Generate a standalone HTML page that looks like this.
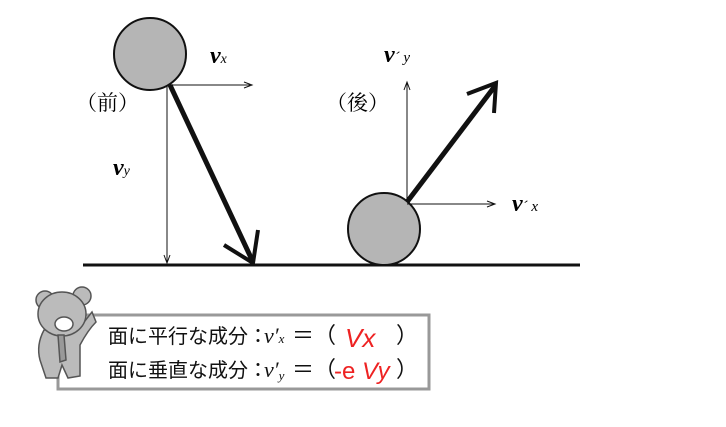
<!DOCTYPE html>
<html><head><meta charset="utf-8"><style>
body{margin:0;background:#fff;width:726px;height:422px;overflow:hidden}
svg text{font-family:"Liberation Serif","Noto Serif CJK SC",serif}
.j{font-family:"Liberation Sans","Noto Sans CJK JP",sans-serif}
</style></head><body>
<svg width="726" height="422" viewBox="0 0 726 422">
<line x1="83" y1="265" x2="580" y2="265" stroke="#111" stroke-width="3"/>
<circle cx="150" cy="54" r="36" fill="#b5b5b5" stroke="#111" stroke-width="2"/>
<line x1="170" y1="85" x2="250" y2="85" stroke="#111" stroke-width="1"/>
<path d="M244,82 L252,85 L244,88" fill="none" stroke="#111"/>
<line x1="167" y1="85" x2="167" y2="262" stroke="#111" stroke-width="1"/>
<path d="M164,255 L167,263 L170,255" fill="none" stroke="#111"/>
<line x1="170" y1="85" x2="253" y2="262" stroke="#111" stroke-width="5"/>
<path d="M224,245 L253,263 L258,230" fill="none" stroke="#111" stroke-width="4"/>
<circle cx="384" cy="229" r="36" fill="#b5b5b5" stroke="#111" stroke-width="2"/>
<line x1="407" y1="200" x2="407" y2="83" stroke="#111"/>
<path d="M404,90 L407,82 L410,90" fill="none" stroke="#111"/>
<line x1="407" y1="204" x2="494" y2="204" stroke="#111"/>
<path d="M487,201 L495,204 L487,207" fill="none" stroke="#111"/>
<line x1="407" y1="202" x2="495" y2="86" stroke="#111" stroke-width="5"/>
<path d="M467,94 L496,83 L494,113" fill="none" stroke="#111" stroke-width="4"/>
<text x="210" y="63" font-size="24" font-style="italic" font-weight="bold">v<tspan font-size="14" font-weight="normal">x</tspan></text>
<text x="76" y="110" font-size="21">（前）</text>
<text x="113" y="175" font-size="24" font-style="italic" font-weight="bold">v<tspan font-size="14" font-weight="normal">y</tspan></text>
<text x="384" y="62" font-size="24" font-style="italic" font-weight="bold">v<tspan font-size="15" font-weight="normal">´ y</tspan></text>
<text x="326" y="110" font-size="21">（後）</text>
<text x="512" y="211" font-size="24" font-style="italic" font-weight="bold">v<tspan font-size="15" font-weight="normal">´ x</tspan></text>
<rect x="58" y="315" width="371" height="74" fill="#fff" stroke="#999" stroke-width="3"/>
<g fill="#111">
<text x="108" y="343" font-size="20" class="j">面に平行な成分：</text>
<text x="108" y="377" font-size="20" class="j">面に垂直な成分：</text>
<text x="264" y="343" font-size="22" font-style="italic">v′<tspan font-size="13">x</tspan></text>
<text x="264" y="377" font-size="22" font-style="italic">v′<tspan font-size="13" dy="3">y</tspan></text>
<text x="292" y="343" font-size="22" class="j">＝（</text>
<text x="292" y="377" font-size="22" class="j">＝（</text>
<text x="396" y="343" font-size="22" class="j">）</text>
<text x="396" y="377" font-size="22" class="j">）</text>
</g>
<text x="345" y="347" font-size="26" fill="#e22" font-style="italic" class="j">Vx</text>
<text x="334" y="379" font-size="24" fill="#e22" class="j">-e <tspan font-style="italic">Vy</tspan></text>
<g stroke="#555" stroke-width="1.5">
<circle cx="45" cy="300" r="9" fill="#bbb"/><circle cx="82" cy="296" r="9" fill="#bbb"/>
<path d="M44,330 Q36,345 40,360 L46,378 L58,378 L62,365 L68,378 L80,376 L80,345 Q88,330 96,322 L92,312 Q84,322 78,330 Z" fill="#bbb"/>
<ellipse cx="62" cy="314" rx="24" ry="22" fill="#bbb"/>
<ellipse cx="64" cy="324" rx="9" ry="7" fill="#fff"/>
<path d="M58,335 L64,335 L66,360 L60,362 Z" fill="#999"/>
</g>
</svg>
</body></html>
